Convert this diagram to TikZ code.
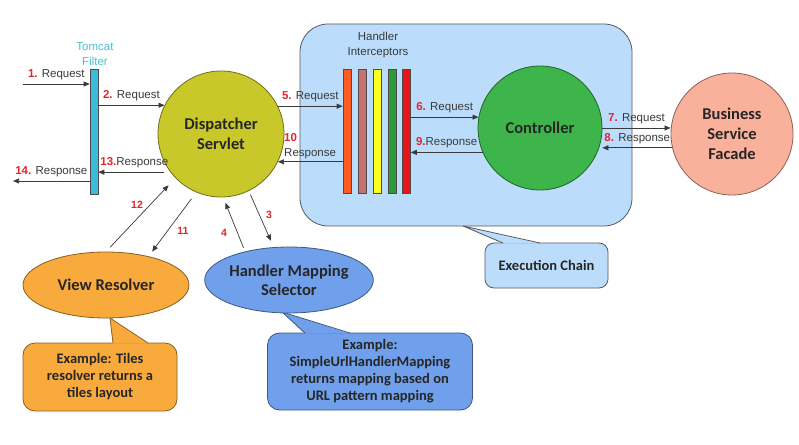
\documentclass[tikz,border=0pt]{standalone}
\usepackage{fontspec}
\setmainfont{Liberation Sans}
\newfontfamily\calfont{Carlito}
\usetikzlibrary{shapes.geometric,arrows.meta}
\definecolor{numred}{HTML}{E0262B}
\definecolor{labgray}{HTML}{3A3A3A}
\definecolor{tomcatcyan}{HTML}{45C3D6}
\definecolor{filterfill}{HTML}{3BBCD9}
\definecolor{dsfill}{HTML}{C9C82B}
\definecolor{chainfill}{HTML}{BBDDFB}
\definecolor{ctrlfill}{HTML}{3DB54A}
\definecolor{bsffill}{HTML}{F9B19C}
\definecolor{vrfill}{HTML}{F9AA3C}
\definecolor{hmsfill}{HTML}{70A0EB}
\definecolor{barone}{HTML}{FF5A1F}
\definecolor{bartwo}{HTML}{C87171}
\definecolor{barthree}{HTML}{FFFF20}
\definecolor{barfour}{HTML}{2E9B3A}
\definecolor{barfive}{HTML}{E8141B}
\tikzset{
  arr/.style={-{Triangle[length=6pt,width=5pt]}, draw=labgray, line width=0.7pt},
  lab/.style={font=\fontsize{11.5}{15}\selectfont, text=labgray, inner sep=1pt},
  num/.style={font=\fontsize{10.5}{12}\selectfont\bfseries, text=numred, inner sep=0pt},
  ball/.style={circle, draw=#1!55!black, fill=#1, line width=0.8pt, inner sep=0pt,
    align=center, text=black!85, font=\calfont\fontsize{16.5}{20}\selectfont\bfseries},
  oval/.style={ellipse, draw=#1!55!black, fill=#1, line width=0.8pt, inner sep=0pt,
    minimum width=166pt, minimum height=66pt, align=center, text=black!85,
    font=\calfont\fontsize{16.5}{19}\selectfont\bfseries},
  bar/.style={rectangle, draw=black!70, fill=#1, line width=0.6pt, inner sep=0pt,
    minimum width=8pt, minimum height=124pt},
  note/.style={rectangle, rounded corners=12pt, draw=#1!55!black, fill=#1, line width=0.8pt,
    align=center, text=black!85, font=\calfont\fontsize{14.5}{17}\selectfont\bfseries},
}
\begin{document}
\begin{tikzpicture}[x=1pt, y=-1pt]
	\path[use as bounding box, fill=white] (0,0) rectangle (799,444);

	% execution chain
	\node[draw=gray!70!black, fill=chainfill, rounded corners=28pt, line width=0.8pt,
	      minimum width=332pt, minimum height=202pt] (chain) at (466,125) {};
	\node[note=chainfill, draw=gray!70!black, rounded corners=9pt, minimum width=123pt, minimum height=45pt,
	      font=\calfont\fontsize{14.5}{16}\selectfont\bfseries] (chainnote) at (546.5,265.5) {Execution Chain};
	\fill[chainfill] (463,226) -- (503,243.6) -- (540,243.6) -- cycle;
	\draw[gray!70!black, line width=0.8pt] (503,243) -- (463,226) -- (540,243);
	\node[lab, align=center] (hilabel) at (378,45) {Handler\\Interceptors};

	% interceptors
	\node[bar=barone] (i1) at (347,131) {};
	\node[bar=bartwo] (i2) at (362,131) {};
	\node[bar=barthree] (i3) at (377,131) {};
	\node[bar=barfour] (i4) at (392,131) {};
	\node[bar=barfive] (i5) at (406.5,131) {};

	% tomcat filter
	\node[rectangle, draw=black!70, fill=filterfill, line width=0.6pt, inner sep=0pt,
	      minimum width=8pt, minimum height=125pt] (filter) at (94,132) {};
	\node[lab, text=tomcatcyan, align=center] (tflabel) at (95,54) {Tomcat\\Filter};

	% main nodes
	\node[ball=dsfill, minimum size=126pt] (ds) at (221,134) {Dispatcher\\Servlet};
	\node[ball=ctrlfill, minimum size=124pt] (ctrl) at (540,128) {Controller};
	\node[ball=bsffill, minimum size=122pt] (bsf) at (732,134) {Business\\Service\\Facade};

	% callouts below
	\node[note=vrfill, minimum width=154pt, minimum height=68pt] (vrnote) at (100,377)
	      {Example: Tiles\\resolver returns a\\tiles layout};
	\fill[vrfill] (110,318) -- (113,343.6) -- (148,343.6) -- cycle;
	\draw[vrfill!55!black, line width=0.8pt] (113,343) -- (110,318) -- (148,343);
	\node[note=hmsfill, minimum width=205pt, minimum height=77pt] (hmsnote) at (370,371.5)
	      {Example:\\SimpleUrlHandlerMapping\\returns mapping based on\\URL pattern mapping};
	\fill[hmsfill] (282,312) -- (305,333.6) -- (350,333.6) -- cycle;
	\draw[hmsfill!55!black, line width=0.8pt] (305,333) -- (282,312) -- (350,333);

	\node[oval=vrfill] (vr) at (106,285) {View Resolver};
	\node[oval=hmsfill] (hms) at (289,280) {Handler Mapping\\Selector};

	% request / response
	\coordinate (in1) at (23,84);
	\coordinate (out14) at (13,181);
	\draw[arr] (in1) -- (in1 -| filter.west)
		node[lab, midway, above=3pt] (l1) {\textcolor{numred}{\textbf{1.}} Request};
	\draw[arr] (filter.east |- ds.153) -- (ds.153)
		node[lab, midway, above=3pt] (l2) {\textcolor{numred}{\textbf{2.}} Request};
	\draw[arr, shorten <=6pt] (ds.217) -- (ds.217 -| filter.east)
		node[lab, midway, above=3pt] (l13) {\textcolor{numred}{\textbf{13.}}Response};
	\draw[arr] (out14 -| filter.west) -- (out14)
		node[lab, midway, above=3pt] (l14) {\textcolor{numred}{\textbf{14.}} Response};
	\draw[arr] (ds.26) -- (ds.26 -| i1.west)
		node[lab, midway, above=3pt] (l5) {\textcolor{numred}{\textbf{5.}} Request};
	\draw[arr] (i1.west |- ds.-26) -- (ds.-26);
	\node[lab, anchor=south west, align=left] (l10) at (283,160) {\textcolor{numred}{\textbf{10}}\\Response};
	\draw[arr] (i5.east |- ctrl.170) -- (ctrl.170)
		node[lab, midway, above=3pt] (l6) {\textcolor{numred}{\textbf{6.}} Request};
	\draw[arr] (ctrl.203) -- (ctrl.203 -| i5.east)
		node[lab, midway, above=3pt] (l9) {\textcolor{numred}{\textbf{9.}}Response};
	\draw[arr] (ctrl.east) -- (ctrl.east -| bsf.west)
		node[lab, midway, above=3pt] (l7) {\textcolor{numred}{\textbf{7.}} Request};
	\draw[arr] (bsf.193) -- (bsf.193 -| ctrl.east)
		node[lab, midway, above=3pt] (l8) {\textcolor{numred}{\textbf{8.}} Response};

	% resolver and mapping
	\draw[arr, shorten <=6pt, shorten >=10pt] (vr.north) -- (ds.224);
	\draw[arr, shorten <=8pt, shorten >=6pt] (ds.247) -- (vr.34);
	\draw[arr, shorten <=4pt, shorten >=6pt] (hms.147) -- (ds.272);
	\draw[arr, shorten <=4pt, shorten >=7pt] (ds.296) -- (hms.115);
	\node[num] (n12) at (137,205) {12};
	\node[num] (n11) at (183,231) {11};
	\node[num] (n4) at (224,233) {4};
	\node[num] (n3) at (269,215) {3};
\end{tikzpicture}
\end{document}
